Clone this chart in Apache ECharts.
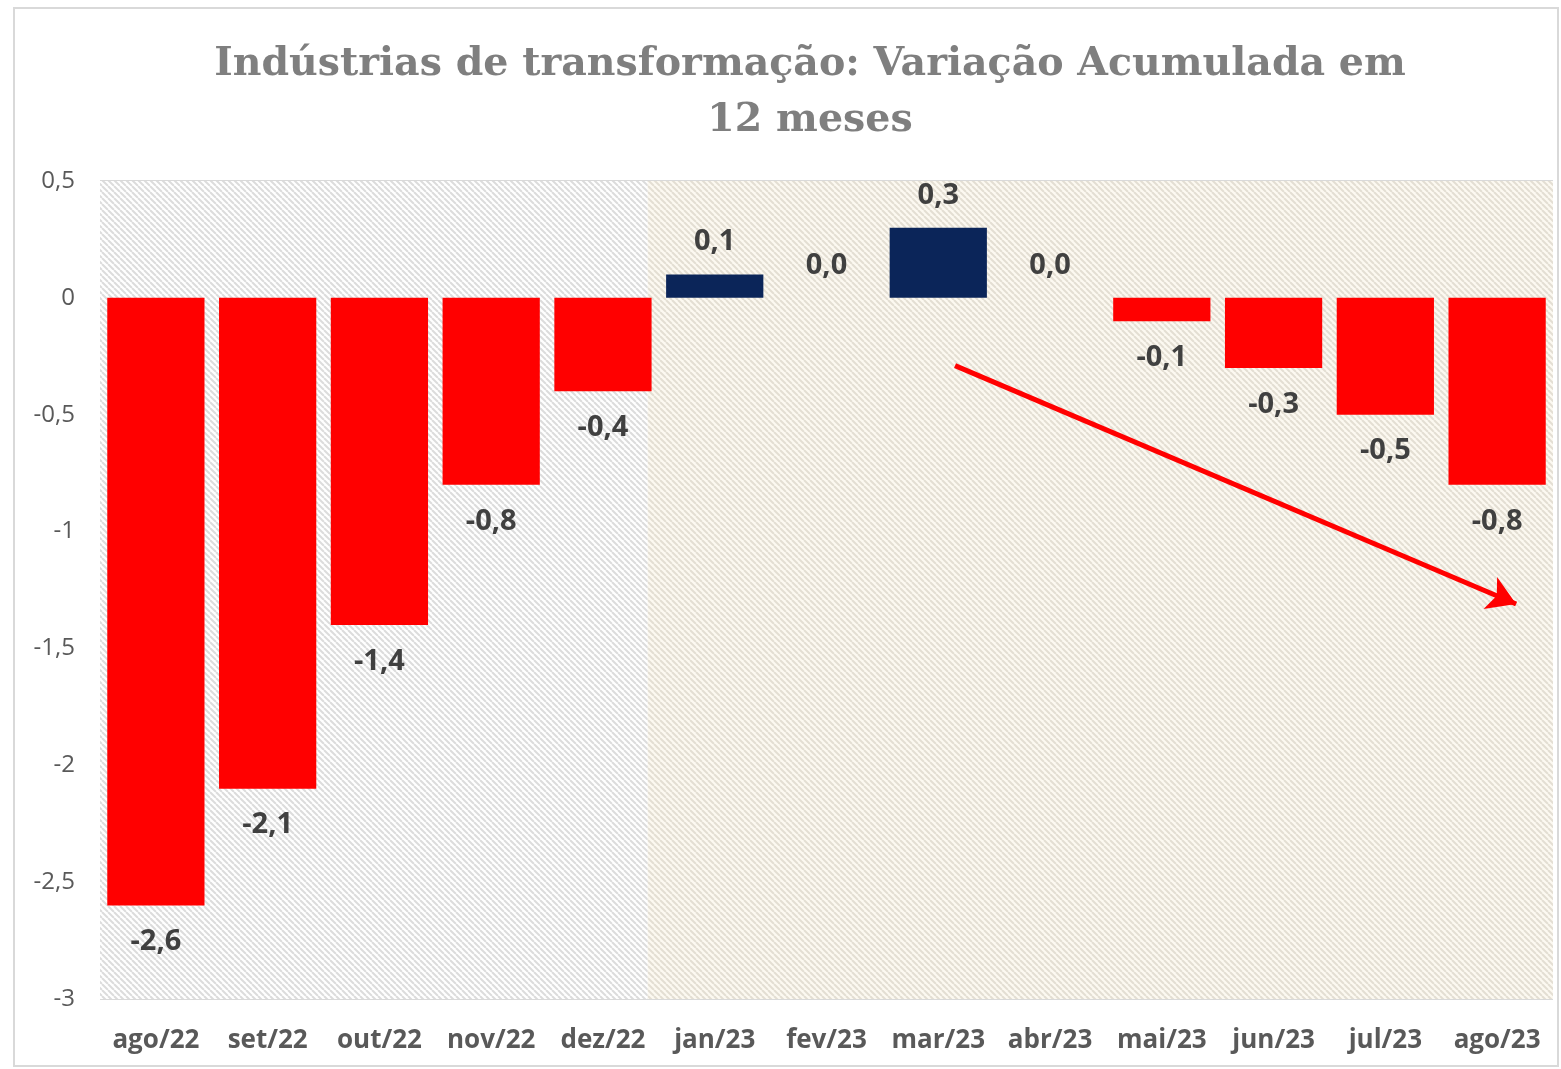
<!DOCTYPE html>
<html><head><meta charset="utf-8">
<script src="https://cdn.jsdelivr.net/npm/echarts@6/dist/echarts.min.js"></script>
<style>html,body{margin:0;padding:0;background:#fff}#wrap{position:absolute;left:13px;top:7px;width:1546px;height:1060px;border:2px solid #d9d9d9;box-sizing:border-box}#c{position:absolute;left:0;top:0;width:1561px;height:1069px}</style>
</head><body><div id="wrap"></div><div id="c"></div>
<script>
const titleText = 'Indústrias de transformação: Variação Acumulada em\n12 meses';
const categories = ['ago/22','set/22','out/22','nov/22','dez/22','jan/23','fev/23','mar/23','abr/23','mai/23','jun/23','jul/23','ago/23'];
const values = [-2.6,-2.1,-1.4,-0.8,-0.4,0.1,0.0,0.3,0.0,-0.1,-0.3,-0.5,-0.8];
const yTicks = [0.5,0,-0.5,-1,-1.5,-2,-2.5,-3];
// trend arrow, in (category index, value) units
const arrowStart = [7.15,-0.29];
const arrowEnd = [12.17,-1.31];
// shaded periods, in category index units
const periodWhite = [-0.5,4.4];
const periodCream = [4.4,12.5];

function pattern(bg, line){
  const c = document.createElement('canvas'); c.width = 6; c.height = 6;
  const g = c.getContext('2d');
  g.fillStyle = bg; g.fillRect(0,0,6,6);
  g.strokeStyle = line; g.lineWidth = 2;
  for (const k of [-6,0,6]) { g.beginPath(); g.moveTo(k,0); g.lineTo(k+6,6); g.stroke(); }
  return {image:c, repeat:'repeat'};
}
const fmt = v => v.toFixed(1).replace('.',',');
const chart = echarts.init(document.getElementById('c'), null, {renderer:'canvas'});
chart.setOption({
  animation:false,
  title:{text:titleText,left:805,textAlign:'center',top:32,textStyle:{fontFamily:'DejaVu Serif',fontWeight:'bold',fontSize:39.5,color:'#7f7f7f',lineHeight:56}},
  grid:{left:100,right:8,top:181,bottom:70},
  xAxis:[{type:'category',data:categories,position:'bottom',axisTick:{show:false},axisLine:{show:false},
    axisLabel:{fontFamily:'Open Sans',fontWeight:'bold',fontSize:26,color:'#595959',margin:29,interval:0}},
    {type:'value',min:-0.5,max:12.5,show:false}],
  yAxis:{type:'value',min:-3,max:0.5,interval:0.5,axisLine:{show:false},axisTick:{show:false},
    splitLine:{lineStyle:{color:'#d9d9d9',width:2}},
    axisLabel:{fontFamily:'Open Sans',fontSize:24,color:'#595959',margin:25,formatter:v=>String(v).replace('.',',')}},
  series:[
    {type:'line',xAxisIndex:1,data:[],silent:true,
      markArea:{silent:true,data:[
        [{coord:[periodWhite[0],0.5],itemStyle:{color:pattern('#ffffff','#dcdcdc')}},{coord:[periodWhite[1],-3]}],
        [{coord:[periodCream[0],0.5],itemStyle:{color:pattern('#fcf9f1','#e3ded3')}},{coord:[periodCream[1],-3]}]
      ]}},
    {type:'bar',barCategoryGap:'13%',z:3,
      data:values.map(v=>({value:v,itemStyle:{color:v>0?'#0b2559':'#ff0000'},
        label:v<0?{position:'bottom',distance:22}:{position:'top',distance:18}})),
      label:{show:true,fontFamily:'Open Sans',fontWeight:'bold',fontSize:29,color:'#404040',formatter:p=>fmt(p.value)}},
    {type:'line',xAxisIndex:1,data:[],z:5,
      markLine:{silent:true,symbol:['none','arrow'],symbolSize:[26,28],label:{show:false},
        lineStyle:{color:'#ff0000',width:5,type:'solid'},
        data:[[{coord:arrowStart},{coord:arrowEnd}]]}}
  ]
});
</script></body></html>
